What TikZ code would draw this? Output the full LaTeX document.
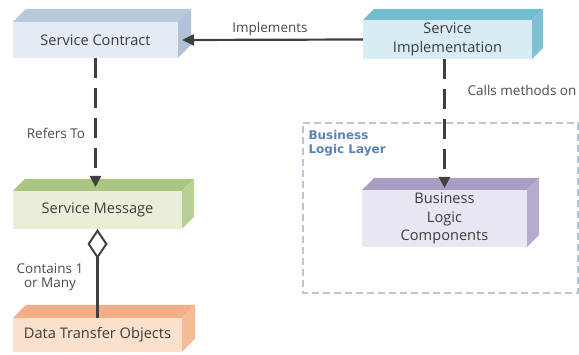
\documentclass[tikz,border=0pt]{standalone}
\usepackage{fontspec}
\setmainfont{Open Sans}
\newfontfamily\layerfont{DejaVu Sans}
\usetikzlibrary{arrows.meta,calc}

\definecolor{inkgray}{HTML}{3C3C3C}
\definecolor{labelgray}{HTML}{4A4A4A}
\definecolor{linegray}{HTML}{404040}
\definecolor{layerblue}{HTML}{5A82B4}
\definecolor{layeredge}{HTML}{B8C5D6}
% contract (blue-grey)
\definecolor{scfront}{HTML}{E5EBF3}
\definecolor{sctop}{HTML}{B9C8DC}
\definecolor{scside}{HTML}{B0C1D8}
% implementation (cyan)
\definecolor{sifront}{HTML}{D8ECF3}
\definecolor{sitop}{HTML}{74BDD1}
\definecolor{siside}{HTML}{7EC2D4}
% message (green)
\definecolor{smfront}{HTML}{E7EFD8}
\definecolor{smtop}{HTML}{ABC683}
\definecolor{smside}{HTML}{B8D095}
% business logic (lavender)
\definecolor{blfront}{HTML}{EAE6F1}
\definecolor{bltop}{HTML}{AA9DC4}
\definecolor{blside}{HTML}{B6ABCD}
% data transfer objects (peach)
\definecolor{dtfront}{HTML}{FBE0CC}
\definecolor{dttop}{HTML}{F2AE87}
\definecolor{dtside}{HTML}{F5BB95}

% top and right faces behind a front-face node: name, depth, top colour, side colour
\newcommand\cuboidfaces[4]{%
  \fill[#3] (#1.north west) -- ++(#2,-#2) -- ($(#1.north east)+(#2,-#2)$) -- (#1.north east) -- cycle;
  \fill[#4] (#1.north east) -- ++(#2,-#2) -- ($(#1.south east)+(#2,-#2)$) -- (#1.south east) -- cycle;
}

\tikzset{
  front/.style={rectangle, inner sep=1pt, outer sep=0pt, text=inkgray, align=center,
    font=\fontsize{14.6}{18.5}\selectfont},
  lbl/.style={text=labelgray, align=center, font=\fontsize{13.5}{14}\selectfont},
  dashlink/.style={draw=linegray, line width=2.6pt, dash pattern=on 20pt off 10pt,
    -{Triangle[length=11pt,width=11pt]}},
  solidlink/.style={draw=linegray, line width=2.2pt},
}

\begin{document}
\begin{tikzpicture}[x=1pt,y=-1pt]
\useasboundingbox (0,0) rectangle (579,355);

% business logic layer boundary
\draw[layeredge, line width=1.1pt, dash pattern=on 7pt off 4pt]
  (303,123) -- (578,123) -- (578,293) -- (303,293) -- cycle;
\node[anchor=north west, text=layerblue, align=left,
  font=\layerfont\bfseries\fontsize{12}{13.5}\selectfont] (layer) at (305,127)
  {Business\\Logic Layer};

% boxes
\node[front, fill=scfront, minimum width=165pt, minimum height=36pt] (sc) at (95.5,40) {Service Contract};
\cuboidfaces{sc}{13}{sctop}{scside}

\node[front, fill=sifront, minimum width=169pt, minimum height=39pt] (si) at (447.5,39.5) {Service\\Implementation};
\cuboidfaces{si}{11}{sitop}{siside}

\node[front, fill=smfront, minimum width=169pt, minimum height=38pt] (sm) at (97.5,210) {Service Message};
\cuboidfaces{sm}{12}{smtop}{smside}

\node[front, fill=blfront, minimum width=165pt, minimum height=57pt] (bl) at (444.5,218.5) {Business\\Logic\\Components};
\cuboidfaces{bl}{12}{bltop}{blside}

\node[front, fill=dtfront, minimum width=169pt, minimum height=34pt] (dt) at (97.5,335) {Data Transfer Objects};
\cuboidfaces{dt}{13}{dttop}{dtside}

% connectors
\draw[solidlink, -{Triangle[length=12pt,width=11pt]}] (si.west) -- ($(sc.east)+(4,0)$);
\node[lbl] (implements) at (270,29) {Implements};

\draw[dashlink] (sc.south) -- ($(sc.south |- sm.north)+(0,-4)$);
\node[lbl] (refers) at (56,133) {Refers To};

\draw[dashlink] (si.south -| bl.north) -- ($(bl.north)+(0,-2)$);
\node[lbl] (calls) at (522,90) {Calls methods on};

\draw[solidlink, -{Diamond[open, length=30pt, width=20pt, line width=2pt]}] (dt.north) -- (sm.south);
\node[lbl] (contains) at (50,277) {Contains 1\\or Many};
\end{tikzpicture}
\end{document}
